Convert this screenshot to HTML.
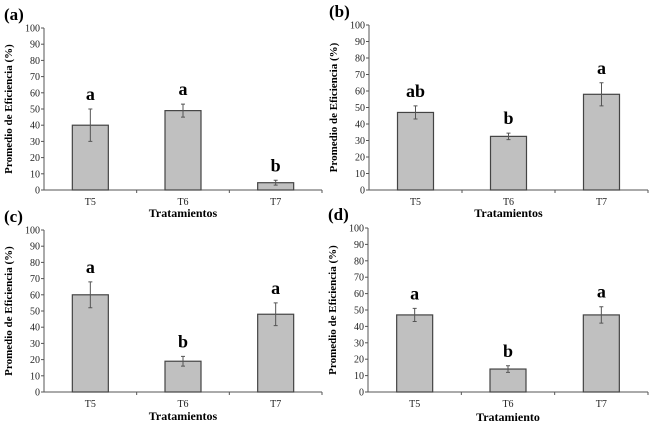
<!DOCTYPE html>
<html><head><meta charset="utf-8">
<style>
html,body{margin:0;padding:0;background:#fff;}
svg{display:block;font-family:"Liberation Serif",serif;}
</style></head>
<body>
<svg id="chart" width="650" height="426" viewBox="0 0 650 426" xmlns="http://www.w3.org/2000/svg"></svg>
<script>
const categories = ["T5","T6","T7"];
const valuesA = [40, 49, 4.5];
const errorsA = [10, 4, 1.5];
const lettersA = ["a","a","b"];
const valuesB = [47, 32.5, 58];
const errorsB = [4, 2, 7];
const lettersB = ["ab","b","a"];
const valuesC = [60, 19, 48];
const errorsC = [8, 3, 7];
const lettersC = ["a","b","a"];
const valuesD = [47, 14, 47];
const errorsD = [4, 2, 5];
const lettersD = ["a","b","a"];
const yTicks = [0,10,20,30,40,50,60,70,80,90,100];

const svg = document.getElementById('chart');
const NS = "http://www.w3.org/2000/svg";
function mk(tag, attrs, parent){
  const e = document.createElementNS(NS, tag);
  for (const k in attrs) e.setAttribute(k, attrs[k]);
  (parent||svg).appendChild(e);
  return e;
}
function panel(id, label, x0, x1, yTop, yBot, vals, errs, letters, xTitle, labelY){
  const g = mk('g', {});
  
  
  const y = v => yBot - (yBot - yTop) * v / 100;
  const bw = (x1 - x0) / categories.length;
  const xc = i => x0 + bw * (i + 0.5);
  // panel label
  const pl = mk('text', {x: x0 - 40, y: yTop - 8, 'font-size': 17, 'font-weight': 'bold'}, g);
  pl.textContent = label;
  
  
  // axes
  const ya = mk('line', {x1: x0, y1: yTop, x2: x0, y2: yBot, stroke: '#555', 'stroke-width': 1}, g);
  
  
  const xa = mk('line', {x1: x0, y1: yBot, x2: x1, y2: yBot, stroke: '#555', 'stroke-width': 1}, g);
  
  
  yTicks.forEach(t => {
    mk('line', {x1: x0 - 3, y1: y(t), x2: x0, y2: y(t), stroke: '#555'}, g);
    const tl = mk('text', {x: x0 - 4, y: y(t) + 3.5, 'font-size': 10, 'text-anchor': 'end', fill: '#222'}, g);
    tl.textContent = t;
    
    
  });
  for (let i = 1; i <= categories.length; i++) {
    mk('line', {x1: x0 + bw * i, y1: yBot, x2: x0 + bw * i, y2: yBot + 3, stroke: '#555'}, g);
  }
  categories.forEach((c, i) => {
    const bar = mk('rect', {x: xc(i) - 18, y: y(vals[i]), width: 36, height: yBot - y(vals[i]), fill: '#c0c0c0', stroke: '#444', 'stroke-width': 1.2}, g);
    
    
    const eb = mk('path', {d: `M${xc(i)},${y(vals[i]-errs[i])}V${y(vals[i]+errs[i])}M${xc(i)-2},${y(vals[i]+errs[i])}H${xc(i)+2}M${xc(i)-2},${y(vals[i]-errs[i])}H${xc(i)+2}`, stroke: '#555', fill: 'none', 'stroke-width': 1}, g);
    
    
    const lt = mk('text', {x: xc(i), y: y(vals[i]+errs[i]) - 9, 'font-size': 18, 'font-weight': 'bold', 'text-anchor': 'middle'}, g);
    lt.textContent = letters[i];
    
    
    const cl = mk('text', {x: xc(i), y: yBot + 15, 'font-size': 10, 'text-anchor': 'middle', fill: '#222'}, g);
    cl.textContent = c;
    
    
  });
  const xt = mk('text', {x: xc(1), y: labelY, 'font-size': 12, 'font-weight': 'bold', 'text-anchor': 'middle'}, g);
  xt.textContent = xTitle;
  
  
  const cy = (yTop + yBot) / 2;
  const yt = mk('text', {x: x0 - 32, y: cy, 'font-size': 11, 'font-weight': 'bold', 'text-anchor': 'middle', transform: `rotate(-90 ${x0-32} ${cy})`}, g);
  yt.textContent = "Promedio de Eficiencia (%)";
  
  
}
panel('a', '(a)', 44, 322, 28, 190, valuesA, errorsA, lettersA, 'Tratamientos', 217);
panel('b', '(b)', 369, 648, 25, 190, valuesB, errorsB, lettersB, 'Tratamientos', 217);
panel('c', '(c)', 44, 322, 230, 392, valuesC, errorsC, lettersC, 'Tratamientos', 420);
panel('d', '(d)', 368, 648, 228, 392, valuesD, errorsD, lettersD, 'Tratamiento', 421);
</script>
</body></html>
